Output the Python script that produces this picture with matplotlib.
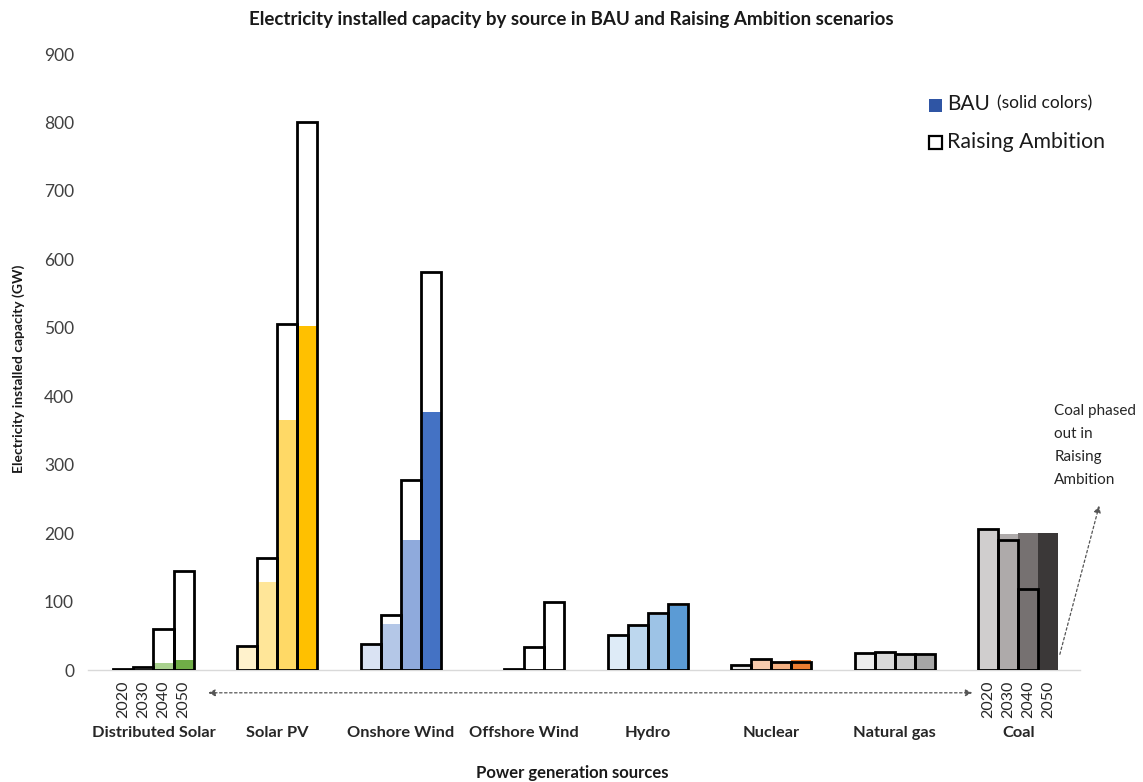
import matplotlib
matplotlib.use("Agg")
import matplotlib.pyplot as plt
from matplotlib.patches import Rectangle
import matplotlib.transforms as mtransforms
import numpy as np

plt.rcParams['font.family'] = ['Lato', 'DejaVu Sans']

groups = ["Distributed Solar", "Solar PV", "Onshore Wind", "Offshore Wind",
          "Hydro", "Nuclear", "Natural gas", "Coal"]
years = ["2020", "2030", "2040", "2050"]

# Raising Ambition values (GW), per group, per year
ra_dist_solar = [0.8, 4, 60, 145]
ra_solar_pv = [35, 163, 505, 800]
ra_onshore = [38, 80, 277, 582]
ra_offshore = [0, 1, 34, 99]
ra_hydro = [51, 66, 84, 96]
ra_nuclear = [7, 16, 11, 11]
ra_gas = [25, 26, 23, 23]
ra_coal = [206, 190, 118, 0]

# BAU values (GW)
bau_dist_solar = [0, 0, 10, 15]
bau_solar_pv = [35, 128, 365, 503]
bau_onshore = [38, 67, 190, 377]
bau_offshore = [0, 0, 0, 0]
bau_hydro = [51, 66, 81, 94]
bau_nuclear = [6, 16, 12, 15]
bau_gas = [25, 26, 23, 23]
bau_coal = [206, 199, 200, 200]

ra_values = [ra_dist_solar, ra_solar_pv, ra_onshore, ra_offshore,
             ra_hydro, ra_nuclear, ra_gas, ra_coal]
bau_values = [bau_dist_solar, bau_solar_pv, bau_onshore, bau_offshore,
              bau_hydro, bau_nuclear, bau_gas, bau_coal]

colors = [
    ["#e2efda", "#c6e0b4", "#a9d18e", "#70ad47"],
    ["#fff2cc", "#ffe699", "#ffd966", "#ffc000"],
    ["#dae3f3", "#b4c7e7", "#8faadc", "#4472c4"],
    ["#deebf7", "#bdd7ee", "#9dc3e6", "#5b9bd5"],
    ["#deebf7", "#bdd7ee", "#9dc3e6", "#5b9bd5"],
    ["#e7e6e6", "#f8cbad", "#f4b183", "#ed7d31"],
    ["#ededed", "#d9d9d9", "#c9c9c9", "#a6a6a6"],
    ["#d0cece", "#aeaaaa", "#767171", "#3b3838"],
]

fig = plt.figure(figsize=(11.43, 7.82), dpi=100)
ax = fig.add_axes([0.077, 0.1432, 0.868, 0.7877])

bw = 0.162
offsets = (np.arange(4) - 1.5) * bw
for gi in range(len(groups)):
    xs = gi + offsets
    ra = np.array(ra_values[gi], dtype=float)
    bau = np.array(bau_values[gi], dtype=float)
    lw_ra = np.where(ra > 0, 2.0, 0)
    ax.bar(xs, ra, width=bw, color="white", edgecolor="none", zorder=2)
    ax.bar(xs, bau, width=bw, color=colors[gi], edgecolor="none", zorder=3)
    ax.bar(xs, ra, width=bw, facecolor="none", edgecolor="black",
           linewidth=lw_ra, zorder=4)

ax.set_xlim(-0.53, 7.5)
ax.set_ylim(0, 900)
ax.set_yticks(np.arange(0, 901, 100))
ax.tick_params(axis='y', length=0, pad=10, labelsize=12.5, labelcolor="#404040")
ax.set_xticks([])
for s in ["top", "right", "left"]:
    ax.spines[s].set_visible(False)
ax.spines["bottom"].set_color("#d9d9d9")
ax.spines["bottom"].set_linewidth(1)

trans = mtransforms.blended_transform_factory(ax.transData, ax.transAxes)
for gi in [0, 7]:
    for yi, yr in enumerate(years):
        ax.text(gi + offsets[yi], -0.017, yr, rotation=90, ha="center", va="top",
                fontsize=11.5, transform=trans, color="#262626")
for gi, g in enumerate(groups):
    ax.text(gi, -0.102, g, ha="center", va="center", fontsize=11.8,
            fontweight="bold", transform=trans, color="#262626")

ax.annotate("", xy=(6.65, -0.037), xytext=(0.42, -0.037),
            xycoords=trans, textcoords=trans,
            arrowprops=dict(arrowstyle="<|-|>", linestyle=(0, (2, 2)),
                            color="#555555", lw=0.9, mutation_scale=10),
            annotation_clip=False)

# coal annotation
ax.annotate("", xy=(7.66, 244), xytext=(7.33, 19),
            arrowprops=dict(arrowstyle="-|>", linestyle=(0, (2, 2)),
                            color="#555555", lw=0.9, mutation_scale=10),
            annotation_clip=False)
ax.text(7.29, 388, "Coal phased\nout in\nRaising\nAmbition", ha="left", va="top",
        fontsize=11, color="#262626", linespacing=1.8, clip_on=False)

fig.text(0.5, 0.975, "Electricity installed capacity by source in BAU and Raising Ambition scenarios",
         ha="center", va="center", fontsize=13.5, fontweight="bold", color="#1a1a1a")
ytrans = mtransforms.blended_transform_factory(fig.transFigure, ax.transData)
fig.text(0.016, 440, "Electricity installed capacity (GW)", rotation=90,
         ha="center", va="center", fontsize=10, fontweight="bold", color="#1a1a1a",
         transform=ytrans)
fig.text(572 / 1143, 0.012, "Power generation sources", ha="center", va="center",
         fontsize=12, fontweight="bold", color="#1a1a1a")

# legend
fig.patches.append(Rectangle((929/1143, 1 - 112/782), 13/1143, 13/782,
                             transform=fig.transFigure, facecolor="#2f55a4",
                             edgecolor="none"))
fig.text(947/1143, 1 - 104/782, "BAU", ha="left", va="center", fontsize=15, color="#1a1a1a")
fig.text(997/1143, 1 - 103/782, "(solid colors)", ha="left", va="center", fontsize=12.5, color="#1a1a1a")
fig.patches.append(Rectangle((929/1143, 1 - 149/782), 13/1143, 13/782,
                             transform=fig.transFigure, facecolor="white",
                             edgecolor="black", linewidth=1.6))
fig.text(947/1143, 1 - 142/782, "Raising Ambition", ha="left", va="center",
         fontsize=15.3, color="#1a1a1a")

fig.savefig("out.png", dpi=100)
